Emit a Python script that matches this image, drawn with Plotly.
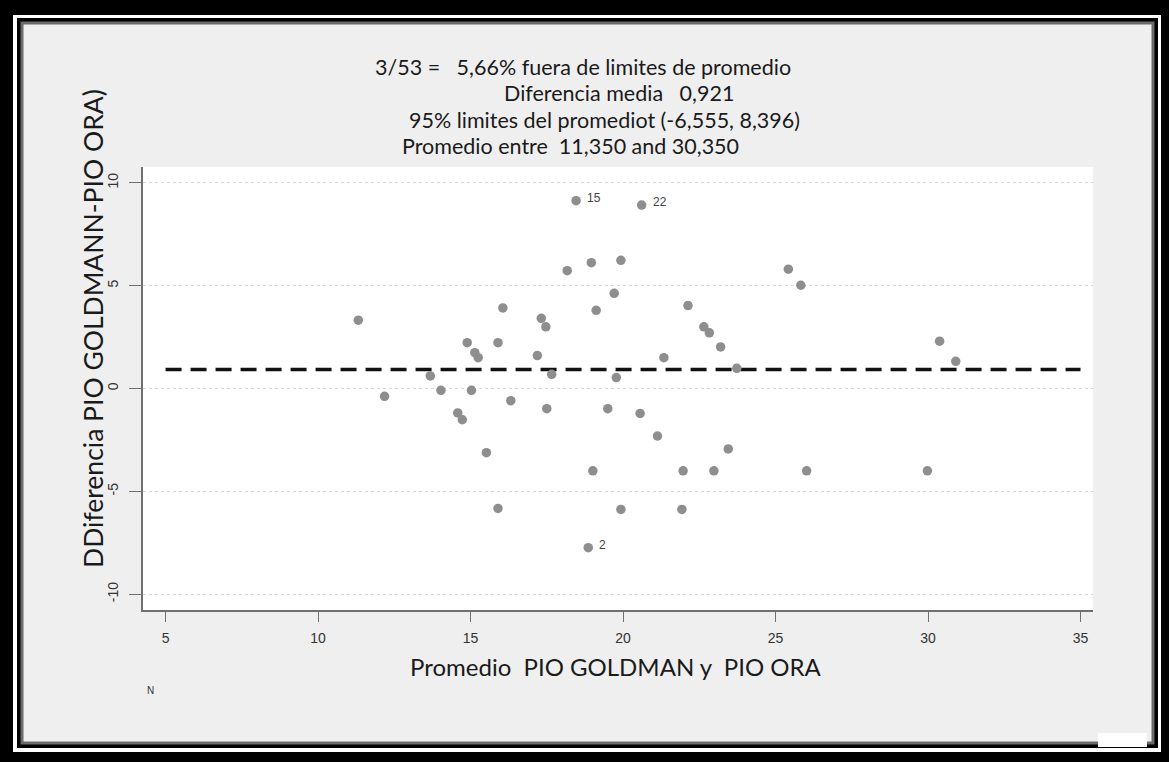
import plotly.graph_objects as go

# ---------------- data ----------------
promedio = [11.32, 12.18, 13.68, 14.03, 14.89, 15.14, 15.25, 15.03, 14.58, 14.73,
            15.52, 15.90, 16.06, 16.32, 18.46, 20.61, 18.17, 18.96, 19.93, 25.42,
            25.83, 17.32, 17.47, 19.12, 19.71, 17.19, 17.66, 19.78, 21.34, 22.13,
            22.65, 22.83, 23.20, 23.73, 30.38, 30.91, 17.50, 19.50, 19.01, 15.90,
            19.93, 18.86, 20.56, 21.13, 23.45, 21.97, 22.98, 26.02, 29.98, 21.93]
diferencia = [3.32, -0.38, 0.61, -0.09, 2.23, 1.74, 1.50, -0.09, -1.19, -1.52,
              -3.12, 2.23, 3.92, -0.59, 9.13, 8.92, 5.73, 6.12, 6.23, 5.80,
              5.02, 3.41, 3.00, 3.80, 4.63, 1.60, 0.69, 0.53, 1.50, 4.03,
              3.00, 2.71, 2.02, 0.98, 2.30, 1.32, -0.98, -0.98, -4.00, -5.83,
              -5.88, -7.74, -1.21, -2.31, -2.94, -4.00, -4.00, -4.00, -4.00, -5.88]
etiquetas_idx = [14, 15, 41]
etiquetas_txt = ["15", "22", "2"]
media_dif = 0.921
linea_x = [5, 35]
x_ticks = [5, 10, 15, 20, 25, 30, 35]
y_ticks = [-10, -5, 0, 5, 10]

titulo_lineas = [
    "3/53 =   5,66% fuera de limites de promedio",
    "Diferencia media   0,921",
    "95% limites del promediot (-6,555, 8,396)",
    "Promedio entre  11,350 and 30,350",
]
x_titulo = "Promedio  PIO GOLDMAN y  PIO ORA"
y_titulo = "DDiferencia PIO GOLDMANN-PIO ORA)"

# ---------------- layout helpers (pixel -> paper) ----------------
W, H = 1169, 762
L, R, T, B = 143, 1093, 167, 610


def px(x):
    return (x - L) / (R - L)


def py(y):
    return (B - y) / (B - T)


FONT_TXT = "Lato, Open Sans, sans-serif"
FONT_NUM = "Liberation Sans Narrow, Arial Narrow, Liberation Sans, sans-serif"

fig = go.Figure()

fig.add_trace(go.Scatter(
    x=linea_x, y=[media_dif, media_dif], mode="lines",
    line=dict(color="#111111", width=3.5, dash="16px,9px"),
    hoverinfo="skip", showlegend=False))

fig.add_trace(go.Scatter(
    x=promedio, y=diferencia, mode="markers",
    marker=dict(color="#8e8e8e", size=9.5, line=dict(width=0)),
    showlegend=False))

annotations = []
for i, t in zip(etiquetas_idx, etiquetas_txt):
    annotations.append(dict(
        x=promedio[i], y=diferencia[i], xref="x", yref="y", text=t,
        showarrow=False, xanchor="left", yanchor="middle", xshift=9, yshift=3,
        font=dict(family=FONT_NUM, size=12, color="#444444")))

# top text block
top_pos = [(373, 67), (502, 93), (407, 120), (400, 146)]
for txt, (tx, ty) in zip(titulo_lineas, top_pos):
    annotations.append(dict(
        x=px(tx), y=py(ty), xref="paper", yref="paper", text=txt,
        showarrow=False, xanchor="left", yanchor="middle",
        font=dict(family=FONT_TXT, size=21.5, color="#1a1a1a")))

annotations.append(dict(
    x=px(616), y=py(666), xref="paper", yref="paper", text=x_titulo,
    showarrow=False, xanchor="center", yanchor="middle",
    font=dict(family=FONT_TXT, size=24, color="#1a1a1a")))
annotations.append(dict(
    x=px(93), y=py(329), xref="paper", yref="paper", text=y_titulo,
    showarrow=False, xanchor="center", yanchor="middle", textangle=-90,
    font=dict(family=FONT_TXT, size=26.5, color="#1a1a1a")))
annotations.append(dict(
    x=px(150), y=py(690), xref="paper", yref="paper", text="N",
    showarrow=False, xanchor="center", yanchor="middle",
    font=dict(family=FONT_NUM, size=10, color="#333333")))

# frame shapes
def rect(x0, y0, x1, y1, fill, layer="below", line=None):
    return dict(type="rect", xref="paper", yref="paper",
                x0=px(x0), x1=px(x1), y0=py(y1), y1=py(y0),
                fillcolor=fill, line=line or dict(width=0), layer=layer)

shapes = [
    rect(13, 15, 1161, 752, "#ffffff"),
    rect(17, 18, 1158, 748, "#000000"),
    rect(22, 23, 1153, 743, "#efefef", line=dict(color="#6a6a6a", width=3)),
    rect(L, T, R, B, "#ffffff"),
    rect(1098, 733, 1147, 747, "#ffffff", layer="above"),
]

fig.update_layout(
    width=W, height=H,
    margin=dict(l=L, r=W - R, t=T, b=H - B, autoexpand=False),
    paper_bgcolor="#000000", plot_bgcolor="rgba(0,0,0,0)",
    showlegend=False,
    annotations=annotations, shapes=shapes,
    xaxis=dict(range=[4.26, 35.41], tickvals=x_ticks, ticktext=[str(v) for v in x_ticks],
               showgrid=False, zeroline=False, showline=True, linecolor="#707070",
               linewidth=1.5, ticks="outside", ticklen=10, tickcolor="#707070",
               tickwidth=1.2, ticklabelstandoff=4,
               tickfont=dict(family=FONT_NUM, size=14, color="#333333")),
    yaxis=dict(range=[-10.77, 10.77], tickvals=y_ticks, ticktext=[str(v) for v in y_ticks],
               showgrid=True, gridcolor="#d8d8d8", griddash="dot", gridwidth=1.2,
               zeroline=False, showline=True, linecolor="#707070", linewidth=1.5,
               ticks="outside", ticklen=12, tickcolor="#707070", tickwidth=1.2,
               tickangle=-90, ticklabelstandoff=6,
               tickfont=dict(family=FONT_NUM, size=14, color="#333333")),
)

fig.write_html("out.html", config={"displayModeBar": False},
               post_script="document.body.style.margin='0px';")
